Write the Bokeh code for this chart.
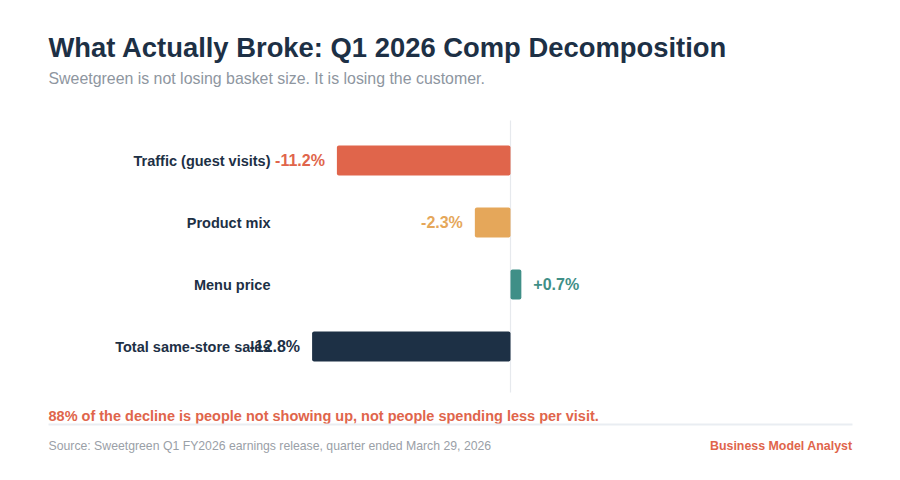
from bokeh.plotting import figure
from bokeh.models import ColumnDataSource, Range1d, Label, BoxAnnotation
from bokeh.core.properties import value
from bokeh.embed import file_html
from bokeh.resources import INLINE

# ---- data ----
categories = ["Traffic (guest visits)", "Product mix", "Menu price", "Total same-store sales"]
values = [-11.2, -2.3, 0.7, -12.8]
value_labels = ["-11.2%", "-2.3%", "+0.7%", "-12.8%"]
colors = ["#e0654b", "#e5a75a", "#3f8f87", "#1d3045"]

title_text = "What Actually Broke: Q1 2026 Comp Decomposition"
subtitle_text = "Sweetgreen is not losing basket size. It is losing the customer."
takeaway_text = "88% of the decline is people not showing up, not people spending less per visit."
source_text = "Source: Sweetgreen Q1 FY2026 earnings release, quarter ended March 29, 2026"
brand_text = "Business Model Analyst"

W, H = 884, 464
FONT = "Liberation Sans"
DARK = "#1d3045"
RED = "#e0654b"

# scale: zero at canvas x=510, 15.5 px per point
px_per = 15.5
x0 = 510
x_start = -x0 / px_per
x_end = (W - x0) / px_per
# rows: centers at canvas y 160 + 62*i (from top)
row0, row_h = 160, 62
y_top = -row0 / row_h
y_bot = (H - row0) / row_h

p = figure(width=W, height=H, output_backend="svg", toolbar_location=None,
           x_range=Range1d(x_start, x_end), y_range=Range1d(y_bot, y_top),
           x_axis_location=None, y_axis_location=None, min_border=0,
           background_fill_color="white", border_fill_color="white")
p.outline_line_color = None
p.xgrid.visible = False
p.ygrid.visible = False

idx = list(range(len(categories)))
src = ColumnDataSource(dict(y=idx, v=values, cat=categories, color=colors))

# zero line
p.segment(x0=[0], x1=[0], y0=[-0.645], y1=[3.74], line_color="#e6e9ed", line_width=1.2)

p.hbar(y="y", left=0, right="v", height=0.484, fill_color="color", line_color=None,
       border_radius=2, source=src)

# category labels
cat_x = (270 - x0) / px_per
p.text(x=cat_x, y="y", text="cat", source=src, text_align="right", text_baseline="middle",
       text_font=value(FONT), text_font_style="bold", text_font_size="14.5px", text_color=DARK)

# value labels
for i in idx:
    p.text(x=[values[i]], y=[i], text=[value_labels[i]], x_offset=(-12 if values[i] < 0 else 12),
           text_align=("right" if values[i] < 0 else "left"), text_baseline="middle",
           text_font=value(FONT), text_font_style="bold", text_font_size="16px",
           text_color=colors[i])

def add_label(txt, x, y, size, color, bold=False, align="left"):
    p.add_layout(Label(x=x, y=y, x_units="screen", y_units="screen", text=txt,
                       text_font=FONT, text_font_size=size, text_color=color,
                       text_font_style="bold" if bold else "normal",
                       text_align=align, text_baseline="middle"))

add_label(title_text, 48, H - 47, "27.4px", DARK, bold=True)
add_label(subtitle_text, 48, H - 78, "15.9px", "#8e969f")
add_label(takeaway_text, 48, H - 415, "14.5px", RED, bold=True)
add_label(source_text, 48, H - 445, "12.25px", "#9aa0a7")
add_label(brand_text, 852, H - 445, "12.4px", RED, bold=True, align="right")

p.add_layout(BoxAnnotation(left=48, right=852, bottom=H - 425, top=H - 423,
                           left_units="screen", right_units="screen",
                           bottom_units="screen", top_units="screen",
                           fill_color="#e9edf2", fill_alpha=1, line_color=None))

open("out.html", "w").write(file_html(p, INLINE))
